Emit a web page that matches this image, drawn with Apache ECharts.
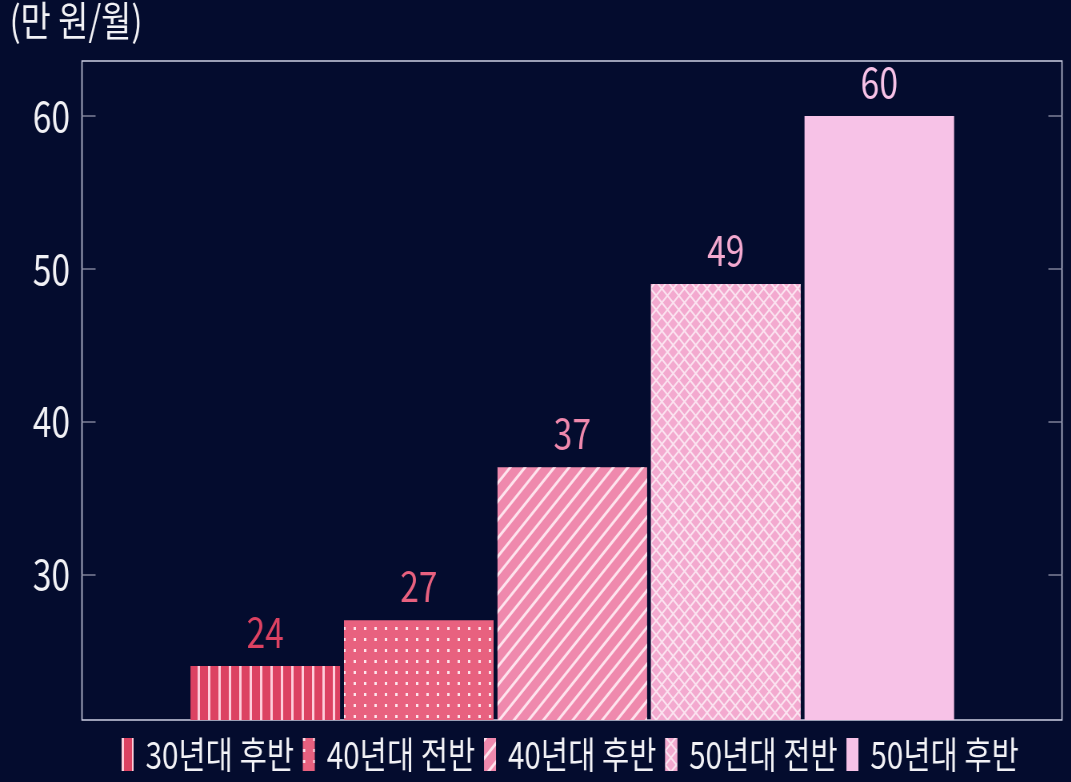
<!DOCTYPE html>
<html>
<head>
<meta charset="utf-8">
<script src="https://cdn.jsdelivr.net/npm/echarts@6/dist/echarts.min.js"></script>
<style>
  html, body { margin: 0; padding: 0; background: #040c2e; overflow: hidden; }
  #stage { width: 1071px; height: 782px; overflow: hidden; }
  /* the chart is laid out wide and narrowed horizontally for a condensed look */
  #chart { width: 1339px; height: 782px; transform: scaleX(0.8); transform-origin: 0 0; }
</style>
</head>
<body>
<div id="stage"><div id="chart"></div></div>
<script>
// 연령대별 월 수입
const categories = ['30년대 후반', '40년대 전반', '40년대 후반', '50년대 전반', '50년대 후반'];
const values = [24, 27, 37, 49, 60];
const yTicks = [30, 40, 50, 60];
const unitLabel = '(만 원/월)';

const FONT = "'Noto Sans CJK KR', 'Noto Sans', sans-serif";
const BG = '#040c2e';
const FRAME = '#cdd0e4';
const barColors = ['#dc4262', '#e8617f', '#ef89ad', '#f3a9cf', '#f7c2e7'];

// fill patterns for each bar
const decals = [
  { symbol: 'rect', symbolKeepAspect: false, color: 'rgba(255,214,226,0.95)',
    dashArrayX: [2.5, 10], dashArrayY: [10, 0] },
  { symbol: 'rect', symbolKeepAspect: false, color: 'rgba(255,236,242,0.95)',
    dashArrayX: [2.6, 9.5], dashArrayY: [3, 8] },
  { symbol: 'rect', symbolKeepAspect: false, color: 'rgba(255,232,240,0.95)',
    dashArrayX: [2.2, 9.6], dashArrayY: [10, 0], rotation: Math.PI / 4 },
  { symbol: 'rect', symbolKeepAspect: false, color: '#f3a9cf', backgroundColor: '#fbe3f0',
    dashArrayX: [7.2, 1.8], dashArrayY: [7.2, 1.8], rotation: Math.PI / 4 },
  null
];

const series = categories.map((name, i) => ({
  name: name,
  type: 'bar',
  barWidth: 187,
  barGap: '-100%',
  data: [[i + 1, values[i]]],
  itemStyle: Object.assign({ color: barColors[i] }, decals[i] ? { decal: decals[i] } : {}),
  label: {
    show: true,
    position: 'top',
    distance: 13,
    color: barColors[i],
    fontFamily: FONT,
    fontSize: 42,
    formatter: p => String(p.value[1])
  }
}));

const tickStyle = { color: '#7d8098', width: 1.5 };

const chart = echarts.init(document.getElementById('chart'), null, { renderer: 'canvas' });
chart.setOption({
  backgroundColor: BG,
  animation: false,
  textStyle: { fontFamily: FONT },
  grid: {
    left: 102.5, right: 11.5, top: 61, bottom: 62,
    show: true, borderColor: FRAME, borderWidth: 1.5, backgroundColor: 'transparent'
  },
  graphic: [{
    type: 'text', left: 12, top: 0,
    style: { text: unitLabel, fill: '#f2f2f6', font: `41px ${FONT}` }
  }],
  legend: {
    left: 147, bottom: 4,
    itemWidth: 15, itemHeight: 33, itemGap: 11,
    icon: 'rect',
    textStyle: { color: '#f2f2f6', fontSize: 37, fontFamily: FONT, padding: [0, 0, 0, 10] },
    data: categories
  },
  xAxis: {
    type: 'value', min: -0.194, max: 6.19,
    axisLine: { show: false }, axisTick: { show: false },
    axisLabel: { show: false }, splitLine: { show: false }
  },
  yAxis: [{
    type: 'value', min: 20.463, max: 63.6, position: 'left',
    axisLine: { show: false, onZero: false },
    axisTick: { show: true, inside: true, length: 17, customValues: yTicks, lineStyle: tickStyle },
    axisLabel: { show: true, customValues: yTicks, margin: 15, color: '#f2f2f6',
      fontSize: 42, fontFamily: FONT },
    splitLine: { show: false }
  }, {
    type: 'value', min: 20.463, max: 63.6, position: 'right',
    axisLine: { show: false, onZero: false },
    axisTick: { show: true, inside: true, length: 17, customValues: yTicks, lineStyle: tickStyle },
    axisLabel: { show: false },
    splitLine: { show: false }
  }],
  series: series
});
</script>
</body>
</html>
